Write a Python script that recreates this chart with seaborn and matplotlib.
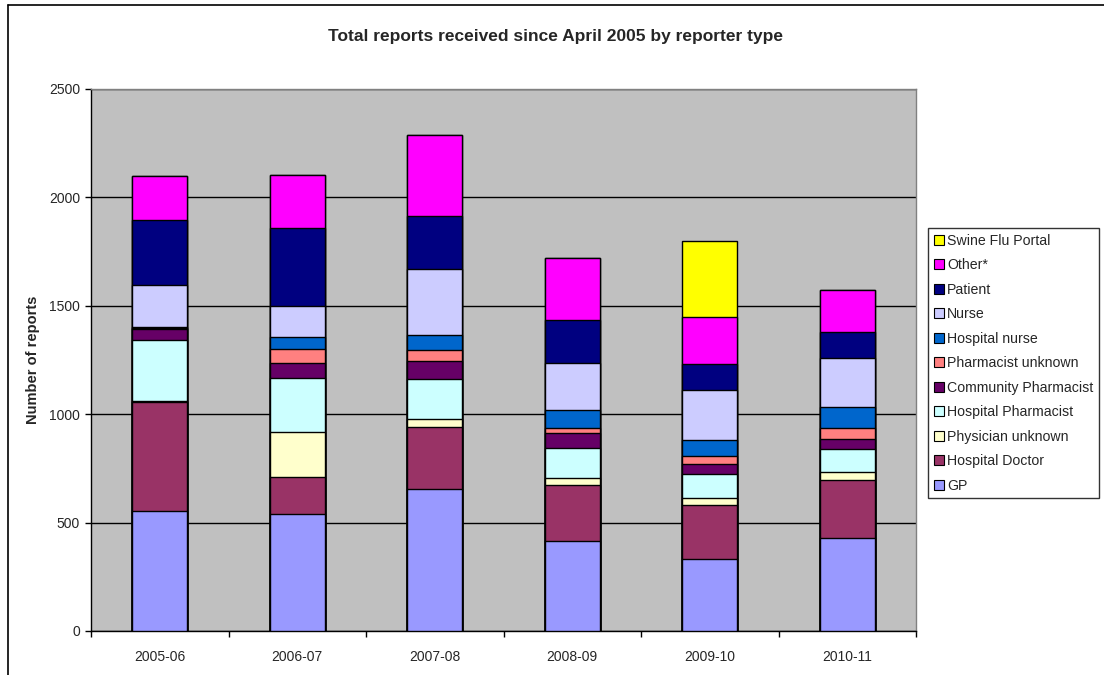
import numpy as np
import pandas as pd
import matplotlib
matplotlib.use("Agg")
import matplotlib.pyplot as plt
from matplotlib.patches import Patch
from matplotlib.lines import Line2D
import seaborn as sns

years = ["2005-06", "2006-07", "2007-08", "2008-09", "2009-10", "2010-11"]

gp = [555, 540, 655, 414, 334, 428]
hospital_doctor = [500, 169, 284, 261, 246, 267]
physician_unknown = [5, 209, 37, 32, 32, 40]
hospital_pharmacist = [280, 247, 188, 136, 111, 103]
community_pharmacist = [55, 70, 80, 70, 47, 48]
pharmacist_unknown = [3, 65, 52, 25, 36, 52]
hospital_nurse = [3, 55, 71, 80, 75, 97]
nurse = [197, 145, 301, 218, 229, 223]
patient = [300, 359, 247, 197, 123, 122]
other = [200, 246, 374, 289, 215, 194]
swine_flu_portal = [0, 0, 0, 0, 349, 0]

series_names = ["GP", "Hospital Doctor", "Physician unknown", "Hospital Pharmacist",
                "Community Pharmacist", "Pharmacist unknown", "Hospital nurse",
                "Nurse", "Patient", "Other*", "Swine Flu Portal"]
series_values = [gp, hospital_doctor, physician_unknown, hospital_pharmacist,
                 community_pharmacist, pharmacist_unknown, hospital_nurse,
                 nurse, patient, other, swine_flu_portal]
colors = ["#9999FF", "#993366", "#FFFFCC", "#CCFFFF", "#660066", "#FF8080",
          "#0066CC", "#CCCCFF", "#000080", "#FF00FF", "#FFFF00"]

sns.set_theme(style="white")
plt.rcParams["font.family"] = ["Liberation Sans", "DejaVu Sans"]

fig = plt.figure(figsize=(11.04, 6.75), dpi=100)
fig.patch.set_facecolor("white")
ax = fig.add_axes([91 / 1104, 44 / 675, 825 / 1104, 542 / 675])
ax.set_facecolor("#C0C0C0")

data = np.array(series_values, dtype=float)
cum = np.cumsum(data, axis=0)

# draw cumulative totals from top series down so each segment shows
for i in range(len(series_names) - 1, -1, -1):
    df = pd.DataFrame({"year": years, "value": cum[i]})
    sns.barplot(data=df, x="year", y="value", color=colors[i], saturation=1,
                width=0.4, edgecolor="black", linewidth=1.0, ax=ax, zorder=3,
                errorbar=None)

ax.set_xlim(-0.5, len(years) - 0.5)
ax.set_ylim(0, 2500)
ax.set_yticks([0, 500, 1000, 1500, 2000, 2500])
ax.yaxis.grid(True, color="black", linewidth=1.0, zorder=0)
ax.set_axisbelow(True)
ax.set_xlabel("")
ax.set_ylabel("Number of reports", fontsize=10.5, fontweight="bold", labelpad=6)

ax.tick_params(axis="y", which="major", direction="out", length=4, width=1,
               color="black", labelsize=10, pad=4, left=True)
ax.tick_params(axis="x", which="major", length=0, labelsize=10, pad=14)
ax.set_xticks(np.arange(-0.5, len(years) + 0.5, 1.0), minor=True)
ax.tick_params(axis="x", which="minor", direction="out", length=4, width=1,
               color="black", bottom=True)

for s in ["left", "bottom"]:
    ax.spines[s].set_color("black")
    ax.spines[s].set_linewidth(1.0)
for s in ["top", "right"]:
    ax.spines[s].set_color("#808080")
    ax.spines[s].set_linewidth(1.0)
    ax.spines[s].set_visible(True)

fig.text(0.503, 1 - 37 / 675, "Total reports received since April 2005 by reporter type",
         ha="center", va="center", fontsize=12.5, fontweight="bold")

handles = [Patch(facecolor=colors[i], edgecolor="black", linewidth=0.8, label=series_names[i])
           for i in range(len(series_names) - 1, -1, -1)]
leg = fig.legend(handles=handles, loc="upper left",
                 bbox_to_anchor=(928 / 1104, 1 - 228 / 675),
                 frameon=True, fancybox=False, shadow=False, fontsize=10.2,
                 handlelength=0.7, handleheight=0.7, handletextpad=0.25,
                 labelspacing=0.74, borderpad=0.4, borderaxespad=0)
leg.get_frame().set_edgecolor("black")
leg.get_frame().set_linewidth(1.0)
leg.get_frame().set_facecolor("white")

# outer chart border (left and top visible)
fig.add_artist(Line2D([8 / 1104, 8 / 1104], [0, 1 - 5 / 675], color="black", linewidth=1.2))
fig.add_artist(Line2D([8 / 1104, 1], [1 - 5 / 675, 1 - 5 / 675], color="black", linewidth=1.2))

fig.savefig("out.png", dpi=100)
